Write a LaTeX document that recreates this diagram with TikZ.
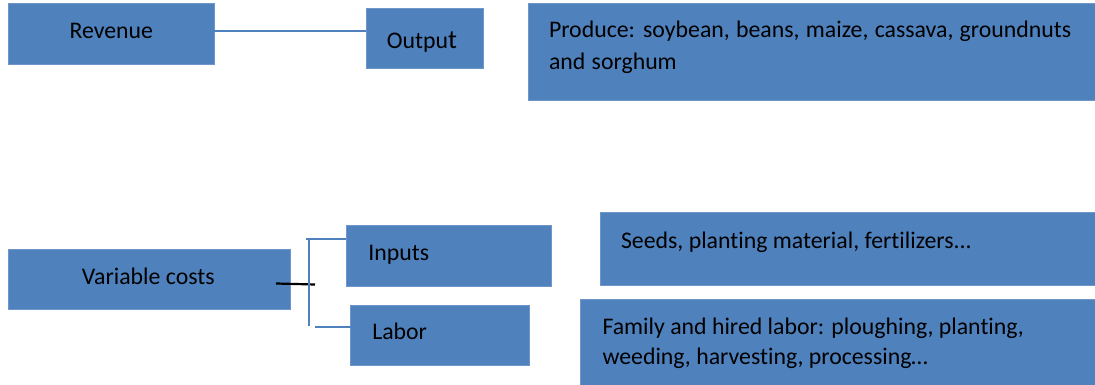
\documentclass[tikz,border=0pt]{standalone}
\usepackage{fontspec}
\setmainfont{Carlito}[RawFeature=-liga]
\usetikzlibrary{calc}
\definecolor{boxblue}{HTML}{4F81BD}
\definecolor{edgeblue}{HTML}{6E96CA}
\definecolor{lineblue}{HTML}{4F81BD}
\tikzset{
  box/.style={fill=boxblue, draw=edgeblue, line width=0.8pt, inner sep=0pt, outer sep=0pt, anchor=north west},
  txt/.style={inner sep=0pt, outer sep=0pt, text=black, font=\fontsize{23.8}{32}\selectfont},
  conn/.style={draw=lineblue, line width=2pt},
  blk/.style={draw=black, line width=2.2pt},
}
\begin{document}
\begin{tikzpicture}[x=1pt,y=-1pt]
\useasboundingbox (0,0) rectangle (1095,385);
% boxes
\node[box, minimum width=206pt, minimum height=61pt] (rev) at (8,3) {};
\node[box, minimum width=117pt, minimum height=60.5pt] (out) at (366,8) {};
\node[box, minimum width=570pt, minimum height=97pt] (prod) at (528.7,3) {};
\node[box, minimum width=282pt, minimum height=60pt] (vc) at (8,249) {};
\node[box, minimum width=205pt, minimum height=61pt] (inp) at (346,225) {};
\node[box, minimum width=179pt, minimum height=60pt] (lab) at (350.7,305) {};
\node[box, minimum width=500pt, minimum height=73pt] (seed) at (600,212.7) {};
\node[box, minimum width=520pt, minimum height=90pt] (fam) at (580.7,299) {};
% texts
\node[txt, anchor=base] (revT) at (111.3,38.3) {Revenue};
\node[txt, anchor=base] (outT) at (422,48.3) {Outpu{\fontsize{26.5}{32}\selectfont t}};
\node[txt, anchor=base west] (prodT) at (549,38) {\vtop{\baselineskip=32pt\spaceskip=0.265em\hbox{Produce: soybean, beans, maize, cassava, groundnuts}\hbox{and sorghum}}};
\node[txt, anchor=base] (vcT) at (148.3,284) {Variable costs};
\node[txt, anchor=base west] (inpT) at (368.3,260) {Inputs};
\node[txt, anchor=base west] (labT) at (372.3,339) {Labor};
\node[txt, anchor=base west] (seedT) at (621,248) {Seeds, planting material, fertilizers...};
\node[txt, anchor=base west] (famT) at (602.5,334) {\vtop{\baselineskip=30pt\hbox{Family and hired labor: ploughing, planting,}\hbox{weeding, harvesting, processing…}}};
% connectors
\draw[conn] ($(rev.north east)+(0,27.7)$) coordinate (r1) -- (r1 -| out.west);
\coordinate (vcJ) at (276,283.5);
\coordinate (brJ) at (315,284.5);
\draw[blk] (vcJ) -- (brJ);
\coordinate (brTop) at (309.3,239);
\coordinate (brBot) at (309.3,326);
\draw[conn] (brTop) -- (brBot);
\draw[conn] ($(inp.north west)+(0,14)$) coordinate (i1) -- ($(i1)+(-40,0)$);
\draw[conn] ($(lab.north west)+(0,21.7)$) coordinate (l1) -- ($(l1)+(-35.7,0)$);
\end{tikzpicture}
\end{document}
